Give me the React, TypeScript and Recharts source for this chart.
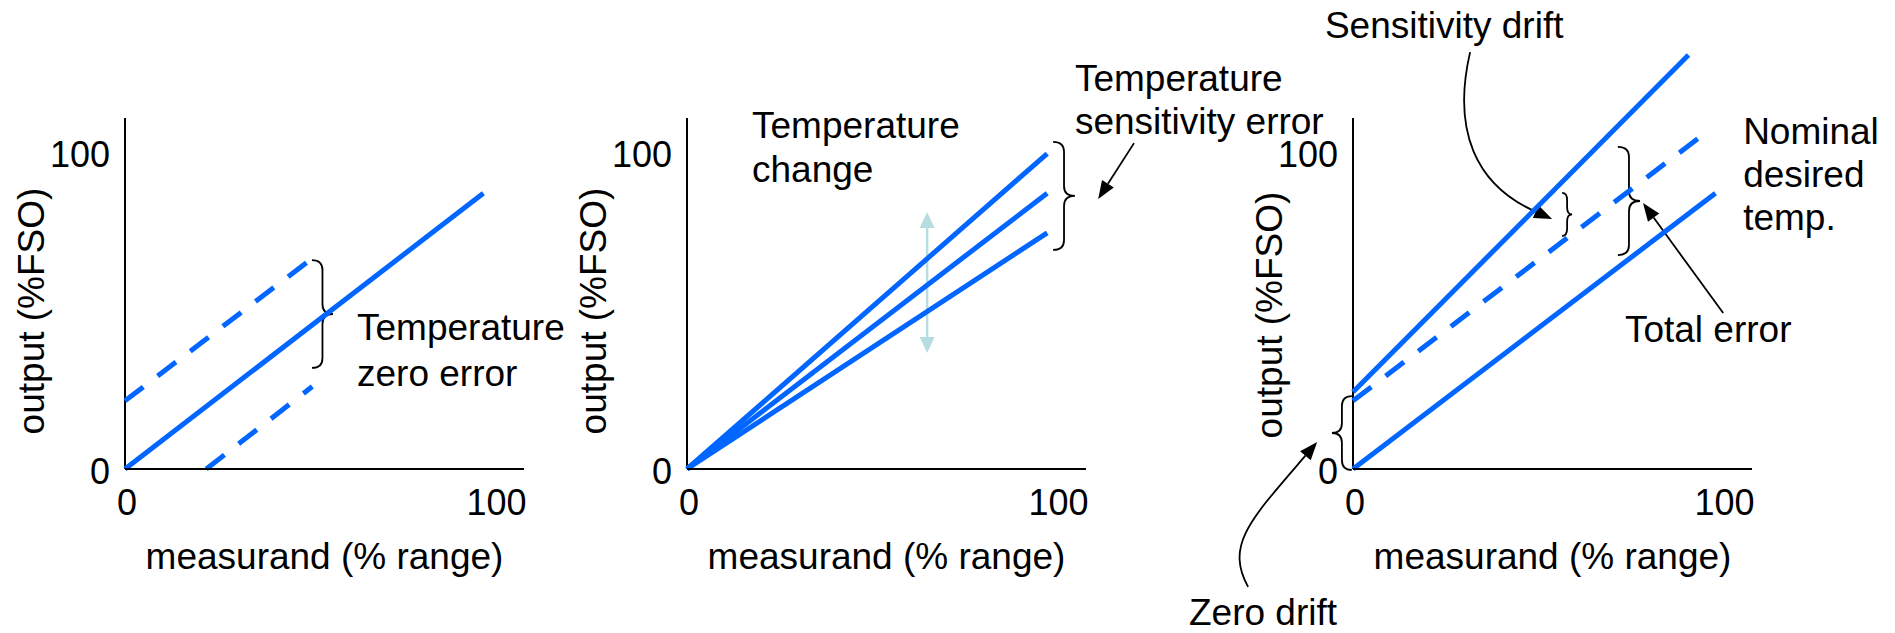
import React from 'react';
import { LineChart, Line, XAxis, YAxis, ReferenceLine, ReferenceDot, ReferenceArea } from 'recharts';

// ---------- data ----------
const xTicks = [0, 100];
const yTicks = [0, 100];
const X_MAX = 108;
const Y_MAX = 140;
const Y_AXIS_TOP = 110.7;

// Panel 1 - temperature zero error
const p1NominalX = [0, 97];
const p1NominalY = [0, 87];
const p1ShiftUpX = [0, 50.5];
const p1ShiftUpY = [21.5, 66.3];
const p1ShiftDownX = [22, 50.7];
const p1ShiftDownY = [0, 26];

// Panel 2 - temperature sensitivity error
const p2X = [0, 97.5];
const p2HighY = [0, 99.5];
const p2MidY = [0, 87];
const p2LowY = [0, 74.5];

// Panel 3 - total error
const p3DriftX = [0, 90.8];
const p3DriftY = [24.3, 130.6];
const p3NominalX = [0, 95.7];
const p3NominalY = [21.5, 106.3];
const p3ZeroX = [0, 98.1];
const p3ZeroY = [0, 87];

// ---------- layout / style ----------
const W = 1895;
const H = 633;
const PLOT_BOTTOM = 469;
const PLOT_W = 399;
const PX_PER_Y = 3.17;
const Y_AXIS_W = 60;
const X_AXIS_H = 60;
const FONT = '"Liberation Sans", Arial, Helvetica, sans-serif';
const FS = 37;
const FS_TICK = 36;
const BLUE = '#0066FF';
const LIGHT = '#B8DDE0';
const DASH = '23 18';

const pts = (xs: number[], ys: number[]) => xs.map((x, i) => ({ x, y: ys[i] }));

function bracePath(x: number, y: number, w: number, h: number, dir: 'right' | 'left') {
  const ym = y + h / 2;
  const r = Math.min(10, h / 6);
  const xe = dir === 'right' ? x : x + w;
  const xt = dir === 'right' ? x + w : x;
  const xs = x + w / 2;
  return `M${xe},${y} Q${xs},${y} ${xs},${y + r} L${xs},${ym - r} Q${xs},${ym} ${xt},${ym} Q${xs},${ym} ${xs},${ym + r} L${xs},${y + h - r} Q${xs},${y + h} ${xe},${y + h}`;
}

const braceShape = (dir: 'right' | 'left') => (p: any) => (
  <path d={bracePath(p.x, p.y, p.width, p.height, dir)} fill="none" stroke="#000" strokeWidth={1.8} />
);

function headPoly(tx: number, ty: number, ux: number, uy: number, len: number, w: number) {
  const bx = tx - ux * len;
  const by = ty - uy * len;
  const px = -uy;
  const py = ux;
  return `${tx},${ty} ${bx + (px * w) / 2},${by + (py * w) / 2} ${bx - (px * w) / 2},${by - (py * w) / 2}`;
}

type Curve = [number, number, number, number] | null;
const arrowShape = (color: string, width: number, headLen: number, headW: number, curve: Curve, twoHeads = false) =>
  (p: any) => {
    const { x1, y1, x2, y2 } = p;
    const dx = x2 - x1;
    const dy = y2 - y1;
    let c1x = 0, c1y = 0, c2x = 0, c2y = 0;
    let tx = dx, ty = dy;
    if (curve) {
      c1x = x1 + curve[0] * dx;
      c1y = y1 + curve[1] * dy;
      c2x = x1 + curve[2] * dx;
      c2y = y1 + curve[3] * dy;
      tx = x2 - c2x;
      ty = y2 - c2y;
    }
    const tl = Math.hypot(tx, ty) || 1;
    const ux = tx / tl, uy = ty / tl;
    const bx = x2 - ux * headLen, by = y2 - uy * headLen;
    let sx = x1, sy = y1;
    const heads = [headPoly(x2, y2, ux, uy, headLen, headW)];
    if (twoHeads) {
      const l = Math.hypot(dx, dy) || 1;
      const vx = -dx / l, vy = -dy / l;
      sx = x1 - vx * headLen;
      sy = y1 - vy * headLen;
      heads.push(headPoly(x1, y1, vx, vy, headLen, headW));
    }
    const d = curve
      ? `M${sx},${sy} C${c1x},${c1y} ${c2x},${c2y} ${bx},${by}`
      : `M${sx},${sy} L${bx},${by}`;
    return (
      <g>
        <path d={d} fill="none" stroke={color} strokeWidth={width} />
        {heads.map((h, i) => <polygon key={i} points={h} fill={color} />)}
      </g>
    );
  };

const noteShape = (lines: string[], lh: number) => (p: any) => (
  <text x={p.cx} y={p.cy} fontSize={FS} fontFamily={FONT} fill="#000">
    {lines.map((l, i) => (
      <tspan key={i} x={p.cx} dy={i === 0 ? 0 : lh}>{l}</tspan>
    ))}
  </text>
);

const YTick = (p: any) => (
  <text x={p.x - 15} y={p.y + 15} textAnchor="end" fontSize={FS_TICK} fontFamily={FONT} fill="#000">
    {p.payload.value}
  </text>
);
const XTick = (p: any) => (
  <text x={p.x + 2} y={p.y + 46} textAnchor="middle" fontSize={FS_TICK} fontFamily={FONT} fill="#000">
    {p.payload.value}
  </text>
);

const note = (key: string, x: number, y: number, lines: string[], lh = 44) => (
  <ReferenceDot key={key} x={x} y={y} r={0} ifOverflow="visible" shape={noteShape(lines, lh)} />
);
const brace = (key: string, x1: number, x2: number, y1: number, y2: number, dir: 'right' | 'left' = 'right') => (
  <ReferenceArea key={key} x1={x1} x2={x2} y1={y1} y2={y2} ifOverflow="visible" shape={braceShape(dir)} />
);
const arrow = (key: string, from: [number, number], to: [number, number], curve: Curve = null) => (
  <ReferenceLine
    key={key}
    segment={[{ x: from[0], y: from[1] }, { x: to[0], y: to[1] }]}
    ifOverflow="visible"
    shape={arrowShape('#000', 1.8, 18, 14, curve)}
  />
);
const series = (key: string, xs: number[], ys: number[], dashed = false) => (
  <Line
    key={key}
    data={pts(xs, ys)}
    dataKey="y"
    type="linear"
    stroke={BLUE}
    strokeWidth={5}
    strokeDasharray={dashed ? DASH : undefined}
    dot={false}
    activeDot={false}
    isAnimationActive={false}
  />
);

function renderPanel(x0: number, titleBaseShift: number, titleCenterY: number, items: React.ReactNode[]) {
  const margin = {
    top: PLOT_BOTTOM - Y_MAX * PX_PER_Y,
    right: W - x0 - PLOT_W,
    bottom: H - PLOT_BOTTOM - X_AXIS_H,
    left: x0 - Y_AXIS_W,
  };
  return (
    <div style={{ position: 'absolute', left: 0, top: 0 }}>
      <LineChart width={W} height={H} margin={margin}>
        <XAxis
          type="number"
          dataKey="x"
          domain={[0, X_MAX]}
          ticks={xTicks}
          interval={0}
          height={X_AXIS_H}
          axisLine={{ stroke: '#000', strokeWidth: 2 }}
          tickLine={false}
          tickSize={0}
          tickMargin={0}
          tick={XTick}
          label={{
            content: () => (
              <text x={x0 + PLOT_W / 2} y={569} textAnchor="middle" fontSize={FS} fontFamily={FONT} fill="#000">
                measurand (% range)
              </text>
            ),
          }}
        />
        <YAxis
          type="number"
          domain={[0, Y_MAX]}
          ticks={yTicks}
          interval={0}
          width={Y_AXIS_W}
          axisLine={false}
          tickLine={false}
          tickSize={0}
          tickMargin={0}
          tick={YTick}
          label={{
            content: () => (
              <text
                transform={`translate(${x0 - titleBaseShift},${titleCenterY}) rotate(-90)`}
                textAnchor="middle"
                fontSize={FS}
                fontFamily={FONT}
                fill="#000"
              >
                output (%FSO)
              </text>
            ),
          }}
        />
        <ReferenceLine
          segment={[{ x: 0, y: 0 }, { x: 0, y: Y_AXIS_TOP }]}
          stroke="#000"
          strokeWidth={2}
          ifOverflow="visible"
        />
        {items}
      </LineChart>
    </div>
  );
}

export default function App() {
  const panel1 = [
    brace('b1', 50.6, 56.3, 31.9, 65.9),
    note('t1', 62.8, 40.7, ['Temperature', 'zero error'], 46),
    series('l1a', p1ShiftUpX, p1ShiftUpY, true),
    series('l1b', p1ShiftDownX, p1ShiftDownY, true),
    series('l1c', p1NominalX, p1NominalY),
  ];
  const panel2 = [
    <ReferenceLine
      key="dbl"
      segment={[{ x: 65, y: 36.6 }, { x: 65, y: 81.1 }]}
      ifOverflow="visible"
      shape={arrowShape(LIGHT, 2.5, 16, 15, null, true)}
    />,
    brace('b2', 99.1, 105, 69.1, 103.2),
    arrow('a2', [121, 102.8], [111.3, 85.2]),
    note('t2a', 17.6, 104.4, ['Temperature', 'change'], 44),
    note('t2b', 105, 119.2, ['Temperature', 'sensitivity error'], 43),
    series('l2a', p2X, p2HighY),
    series('l2b', p2X, p2MidY),
    series('l2c', p2X, p2LowY),
  ];
  const panel3 = [
    brace('b3a', 56.6, 59.3, 73.5, 87.1),
    brace('b3b', 71.7, 77.7, 67.5, 101.6),
    brace('b3c', -5.7, -0.3, -0.3, 23, 'left'),
    arrow('a3a', [31.7, 131.5], [53.9, 78.9], [-0.22, 0.467, 0.061, 0.796]),
    arrow('a3b', [100.2, 49.2], [78.5, 83.9]),
    arrow('a3c', [-28.4, -37.2], [-9.7, 8.5], [-0.333, 0.29, 0.029, 0.462]),
    note('t3a', -7.6, 136, ['Sensitivity drift']),
    note('t3b', 105.6, 102.5, ['Nominal', 'desired', 'temp.'], 43),
    note('t3c', 73.6, 40.1, ['Total error']),
    note('t3d', -44.4, -49.2, ['Zero drift']),
    series('l3a', p3NominalX, p3NominalY, true),
    series('l3b', p3DriftX, p3DriftY),
    series('l3c', p3ZeroX, p3ZeroY),
  ];
  return (
    <div style={{ position: 'absolute', left: 0, top: 0, width: W, height: H, background: '#fff', overflow: 'hidden' }}>
      {renderPanel(125, 81, 311, panel1)}
      {renderPanel(687, 81, 311, panel2)}
      {renderPanel(1353, 71, 315, panel3)}
    </div>
  );
}
